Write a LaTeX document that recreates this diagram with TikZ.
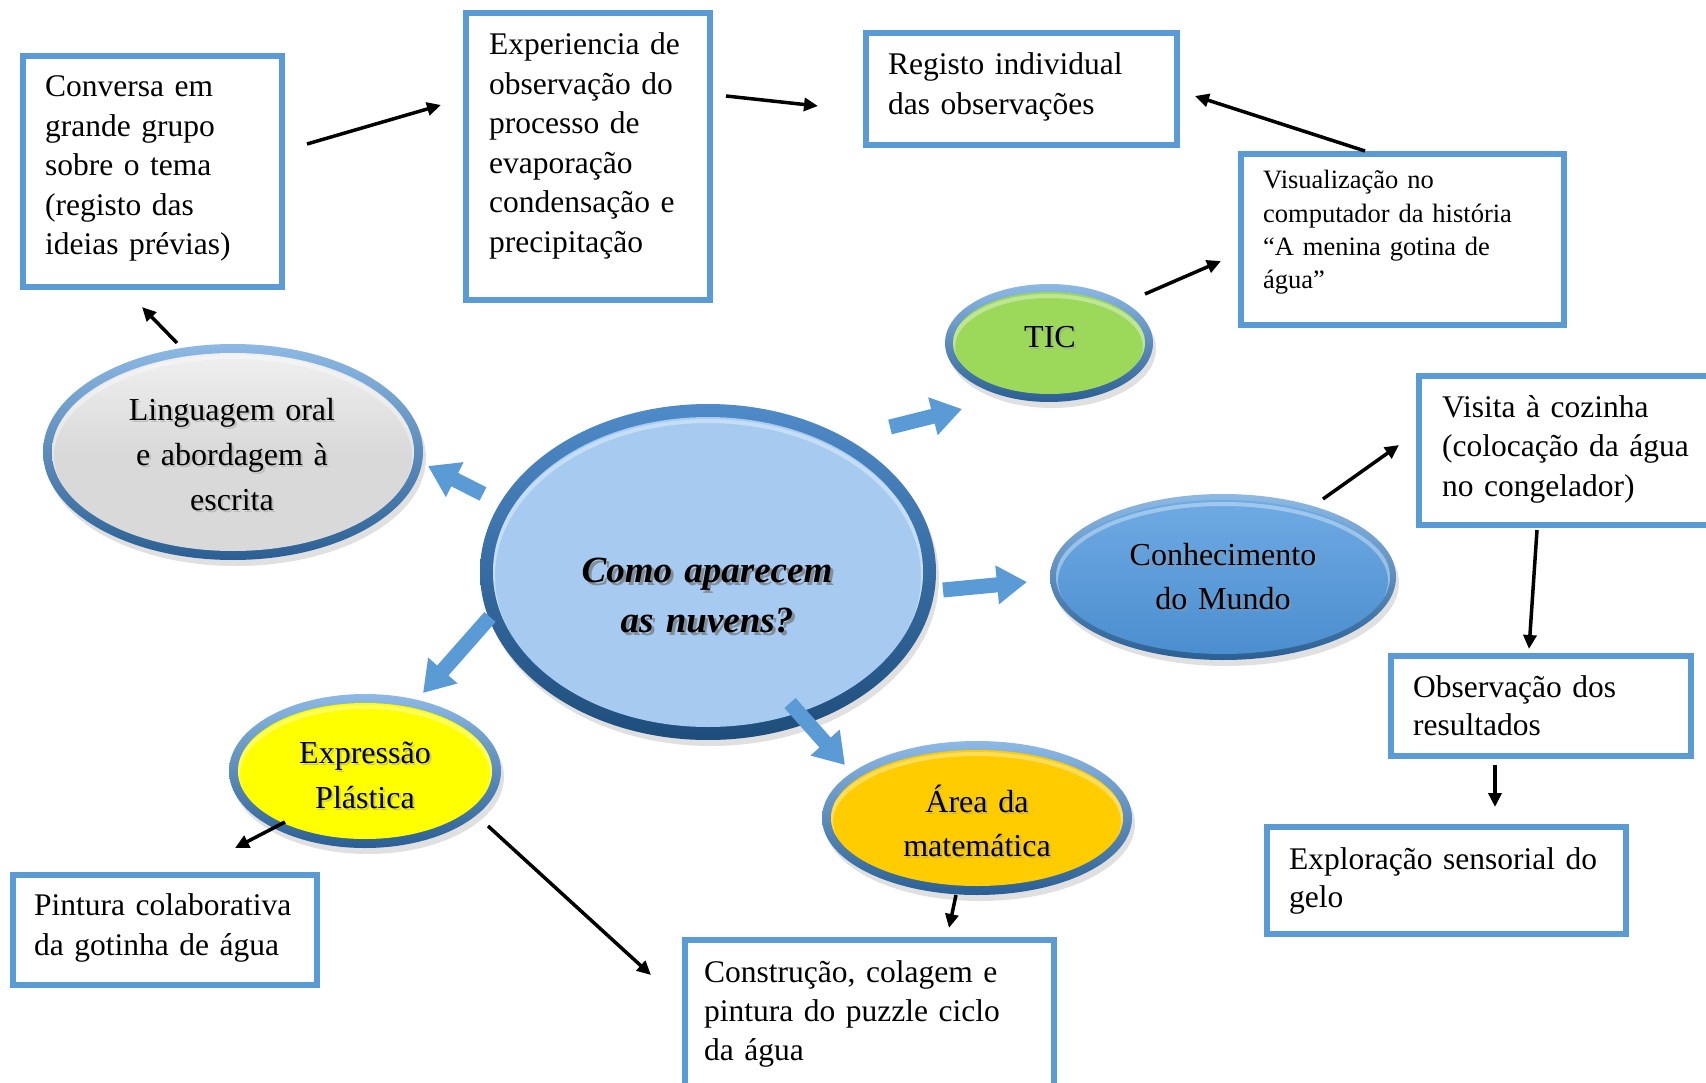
\documentclass[tikz,border=0pt]{standalone}
\usepackage{fontspec}
\setmainfont{Liberation Serif}
\usetikzlibrary{arrows.meta,shapes.geometric}
\definecolor{bx}{HTML}{5B9BD5}
\definecolor{ringtop}{HTML}{8DB9E4}
\definecolor{ringbot}{HTML}{2B5F93}
\definecolor{cenringtop}{HTML}{4F8BC9}
\definecolor{cenringbot}{HTML}{1E4D7B}
\definecolor{cenfill}{HTML}{A7CBF0}
\definecolor{grayfill}{HTML}{D9D9D9}
\definecolor{ticfill}{HTML}{9CD95A}
\definecolor{contop}{HTML}{6FAAE3}
\definecolor{conbot}{HTML}{4B8ECF}
\definecolor{yelfill}{HTML}{FFFF00}
\definecolor{orafill}{HTML}{FFCC00}
\newcommand\bev[9]{%
  \fill[black, opacity=.12] (#2+3,#3+6) ellipse ({#4} and {#5});
  \node[ellipse, inner sep=0pt, outer sep=0pt, minimum width=2*#4, minimum height=2*#5, top color=#7, bottom color=#8] (#1) at (#2,#3) {};
  \path[#9] (#2,#3) ellipse ({#4-#6} and {#5-#6});
  \begin{scope}
    \clip (#2,#3) ellipse ({#4-#6} and {#5-#6});
    \draw[white, opacity=.35, line width=4pt] (#2,#3+4) ellipse ({#4-#6} and {#5-#6});
  \end{scope}}
\newcommand\shtext[5]{%
  \node[etext,#4,text=black!40,opacity=.45] at (#2+2,#3+2) {#5};
  \node[etext,#4] (#1) at (#2,#3) {#5};}
\begin{document}
\begin{tikzpicture}[x=1pt,y=-1pt,
  boxst/.style={draw=bx, line width=6pt, fill=white, inner sep=0pt, outer sep=0pt, anchor=north west},
  btext/.style={anchor=base west, inner sep=0pt, text width=420pt, align=left, font=\fontsize{31.5}{39.5}\selectfont},
  etext/.style={anchor=base, inner sep=0pt, text width=420pt, align=center, font=\fontsize{32}{45}\selectfont},
  arr/.style={line width=3.5pt, -{Triangle[length=14pt,width=13pt]}},
  barr/.style={line width=15pt, draw=bx, -{Triangle[length=30pt,width=37pt]}}]
\useasboundingbox (0,0) rectangle (1706,1083);
\fill[white] (0,0) rectangle (1706,1083);

% ---------- boxes ----------
\node[boxst, minimum width=259, minimum height=231] (conv) at (23,56) {};
\node[btext] (convt) at (45,97) {Conversa em\\grande grupo\\sobre o tema\\(registo das\\ideias prévias)};

\node[boxst, minimum width=244, minimum height=287] (expe) at (466,13) {};
\node[btext] (expet) at (489,55) {Experiencia de\\observação do\\processo de\\evaporação\\condensação e\\precipitação};

\node[boxst, minimum width=311, minimum height=112] (regi) at (866,33) {};
\node[btext] (regit) at (888,75) {Registo individual\\das observações};

\node[boxst, minimum width=323, minimum height=171] (visu) at (1241,154) {};
\node[btext, font=\fontsize{26.5}{33.2}\selectfont] (visut) at (1263,189) {Visualização no\\computador da história\\“A menina gotina de\\água”};

\node[boxst, minimum width=311, minimum height=149] (visi) at (1419,376) {};
\node[btext] (visit) at (1442,417) {Visita à cozinha\\(colocação da água\\no congelador)};

\node[boxst, minimum width=300, minimum height=100] (obse) at (1391,656) {};
\node[btext, font=\fontsize{31.5}{38}\selectfont] (obset) at (1413,697) {Observação dos\\resultados};

\node[boxst, minimum width=359, minimum height=107] (expl) at (1267,827) {};
\node[btext, font=\fontsize{31.5}{38}\selectfont] (explt) at (1289,869) {Exploração sensorial do\\gelo};

\node[boxst, minimum width=369, minimum height=170] (cons) at (685,940) {};
\node[btext, font=\fontsize{31.5}{39}\selectfont] (const) at (704,982) {Construção, colagem e\\pintura do puzzle ciclo\\da água};

\node[boxst, minimum width=304, minimum height=110] (pint) at (13,875) {};
\node[btext, font=\fontsize{31.5}{40}\selectfont] (pintt) at (34,915) {Pintura colaborativa\\da gotinha de água};

% ---------- ellipses ----------
\bev{lin}{233}{452}{190}{108}{9}{ringtop}{ringbot}{top color=gray!12, bottom color=grayfill, middle color=grayfill}
\bev{cen}{708}{572}{228}{168}{13}{cenringtop}{cenringbot}{fill=cenfill}
\bev{tic}{1049}{343}{104}{59}{8}{ringtop}{ringbot}{fill=ticfill}
\bev{con}{1223}{577}{173}{83}{6}{ringtop}{ringbot}{top color=contop, bottom color=conbot}
\bev{exr}{365}{771}{136}{77}{9}{ringtop}{ringbot}{fill=yelfill}
\bev{are}{977}{818}{155}{77}{9}{ringtop}{ringbot}{fill=orafill}

\shtext{lint}{232}{420}{}{Linguagem oral\\e abordagem à\\escrita}
\node[etext, font=\fontsize{37}{50}\selectfont\bfseries\itshape, text=black!55, opacity=.7] at (710,585) {Como aparecem\\as nuvens?};
\node[etext, font=\fontsize{37}{50}\selectfont\bfseries\itshape] (cent) at (707,582) {Como aparecem\\as nuvens?};
\shtext{tict}{1050}{348}{}{TIC}
\shtext{cont}{1223}{565}{font=\fontsize{32}{44}\selectfont}{Conhecimento\\do Mundo}
\shtext{exrt}{365}{763}{}{Expressão\\Plástica}
\shtext{aret}{977}{812}{font=\fontsize{32}{44}\selectfont}{Área da\\matemática}

% ---------- arrow end points ----------
\coordinate (a1s) at (307,144);  \coordinate (a1e) at (441,105);
\coordinate (a2s) at (726,96);   \coordinate (a2e) at (818,106);
\coordinate (a3s) at (1365,151); \coordinate (a3e) at (1195,96);
\coordinate (a4s) at (1145,294); \coordinate (a4e) at (1221,261);
\coordinate (a5s) at (177,343);  \coordinate (a5e) at (142,307);
\coordinate (a6s) at (1323,499); \coordinate (a6e) at (1399,445);
\coordinate (a7s) at (1537,530); \coordinate (a7e) at (1529,649);
\coordinate (a8s) at (1495,765); \coordinate (a8e) at (1495,807);
\coordinate (a9s) at (956,895);  \coordinate (a9e) at (949,928);
\coordinate (a10s) at (285,822); \coordinate (a10e) at (235,848);
\coordinate (a11s) at (488,826); \coordinate (a11e) at (651,975);

\coordinate (b1s) at (483,494); \coordinate (b1e) at (428,466);
\coordinate (b2s) at (890,427); \coordinate (b2e) at (962,409);
\coordinate (b3s) at (943,590); \coordinate (b3e) at (1027,582);
\coordinate (b4s) at (490,617); \coordinate (b4e) at (423,693);
\coordinate (b5s) at (790,703); \coordinate (b5e) at (845,765);

% ---------- black connectors ----------
\draw[arr] (a1s) -- (a1e);
\draw[arr] (a2s) -- (a2e);
\draw[arr] (a3s) -- (a3e);
\draw[arr] (a4s) -- (a4e);
\draw[arr] (a5s) -- (a5e);
\draw[arr] (a6s) -- (a6e);
\draw[arr] (a7s) -- (a7e);
\draw[arr] (a8s) -- (a8e);
\draw[arr] (a9s) -- (a9e);
\draw[arr] (a10s) -- (a10e);
\draw[arr] (a11s) -- (a11e);

% ---------- blue block arrows ----------
\draw[barr] (b1s) -- (b1e);
\draw[barr] (b2s) -- (b2e);
\draw[barr] (b3s) -- (b3e);
\draw[barr] (b4s) -- (b4e);
\draw[barr] (b5s) -- (b5e);
\end{tikzpicture}
\end{document}
